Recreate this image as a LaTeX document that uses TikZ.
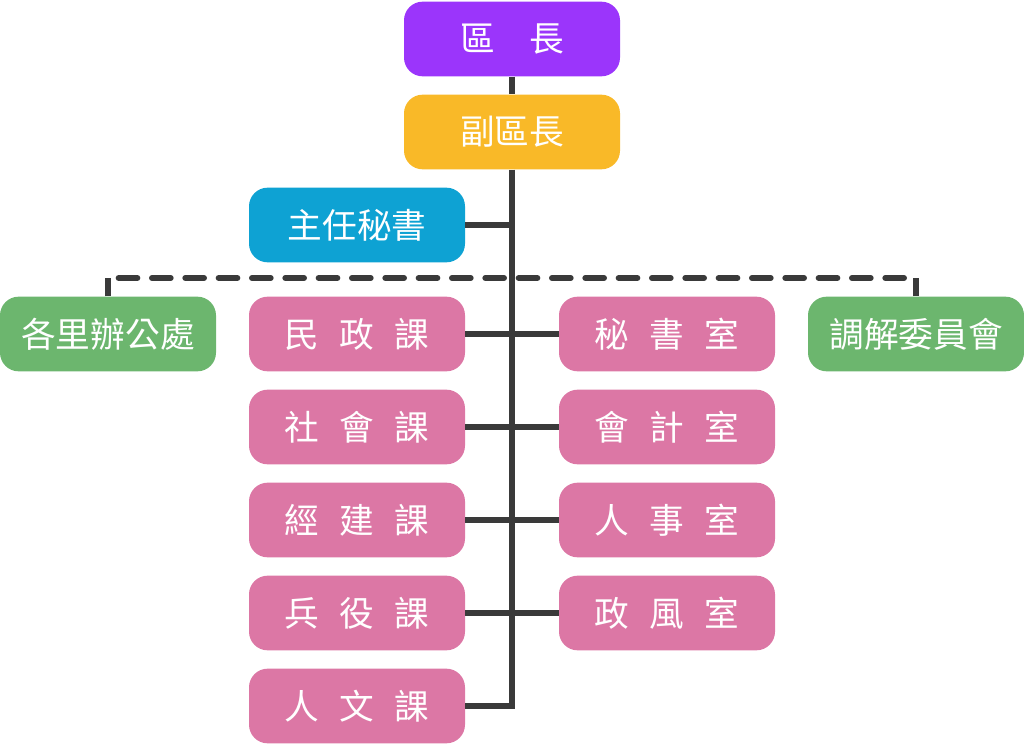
\documentclass[tikz,border=0pt]{standalone}
\usepackage{fontspec}
\newfontfamily\cjk{Noto Sans CJK TC}
\definecolor{cPurple}{HTML}{9B35FB}
\definecolor{cOrange}{HTML}{F9B928}
\definecolor{cBlue}{HTML}{0EA2D3}
\definecolor{cGreen}{HTML}{6CB66E}
\definecolor{cPink}{HTML}{DC77A5}
\definecolor{cLine}{HTML}{3A3A3A}
\tikzset{
  box/.style={rounded corners=14pt, minimum width=162pt, minimum height=56pt,
    inner sep=0pt, text=white, font=\cjk\fontsize{26}{30}\selectfont, anchor=center},
  conn/.style={draw=cLine, line width=4pt},
  dconn/.style={draw=cLine, line width=4.5pt, dash pattern=on 14pt off 11pt, line cap=round},
}
\newcommand{\gp}{\hspace{0.58em}}
\begin{document}
\begin{tikzpicture}[x=0.75pt,y=-0.75pt]
\useasboundingbox (0,0) rectangle (1024,745);
% lines first
\coordinate (trunktop) at (512,76);
\node[box, fill=cPurple] (qz) at (512,39) {區\hspace{1em}長};
\node[box, fill=cOrange] (fz) at (512,132) {副區長};
\node[box, fill=cBlue] (zr) at (357,225) {主任秘書};
\node[box, fill=cGreen] (gl) at (108,334) {各里辦公處};
\node[box, fill=cGreen] (tj) at (916,334) {調解委員會};
\node[box, fill=cPink] (mz) at (357,334) {民\gp 政\gp 課};
\node[box, fill=cPink] (sh) at (357,427) {社\gp 會\gp 課};
\node[box, fill=cPink] (jj) at (357,520) {經\gp 建\gp 課};
\node[box, fill=cPink] (by) at (357,613) {兵\gp 役\gp 課};
\node[box, fill=cPink] (rw) at (357,706) {人\gp 文\gp 課};
\node[box, fill=cPink] (ms) at (667,334) {秘\gp 書\gp 室};
\node[box, fill=cPink] (kj) at (667,427) {會\gp 計\gp 室};
\node[box, fill=cPink] (rs) at (667,520) {人\gp 事\gp 室};
\node[box, fill=cPink] (zf) at (667,613) {政\gp 風\gp 室};
\begin{scope}[on background layer/.style={}]
\end{scope}
\draw[conn] (qz.south) -- (fz.north);
\draw[conn] (fz.south) |- (rw.east);
\draw[conn] (zr.east) -- (zr.east -| fz.south);
\draw[conn] (mz.east) -- (ms.west);
\draw[conn] (sh.east) -- (kj.west);
\draw[conn] (jj.east) -- (rs.west);
\draw[conn] (by.east) -- (zf.west);
\coordinate (dl) at (108,278);
\draw[conn, line width=4.5pt] (gl.north) -- (dl);
\draw[conn, line width=4.5pt] (tj.north) -- (tj.north |- dl);
\draw[dconn] ([xshift=8pt]dl) -- ([xshift=-6pt]tj.north |- dl);
\end{tikzpicture}
\end{document}
